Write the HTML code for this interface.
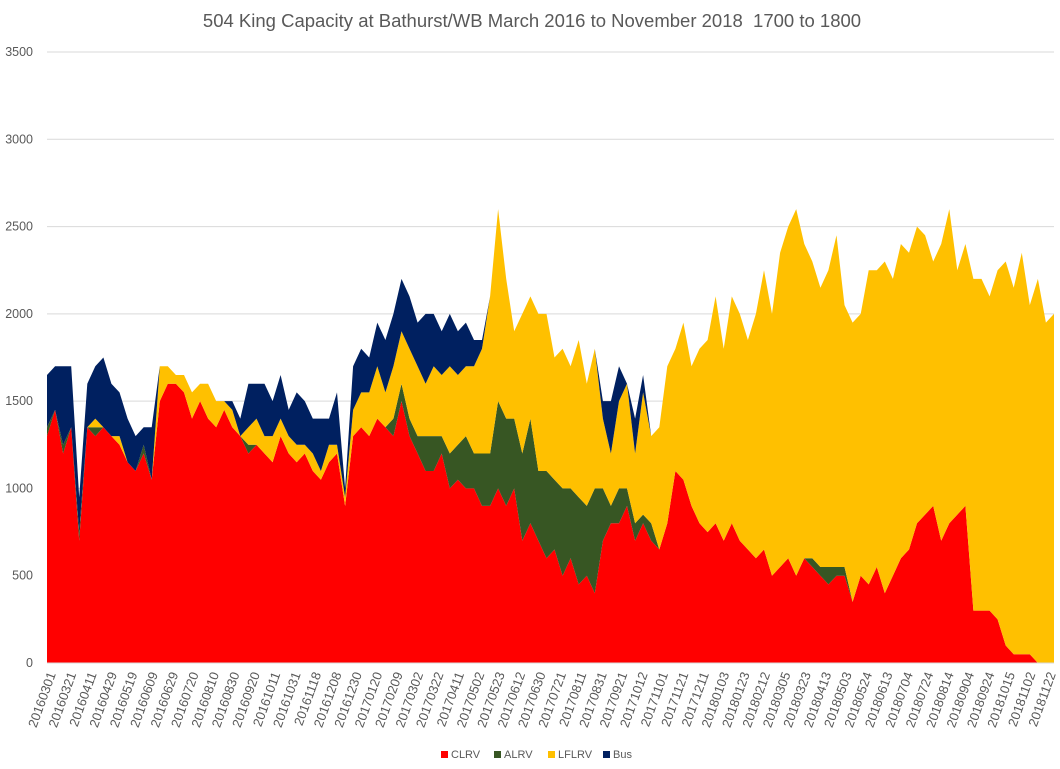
<!DOCTYPE html>
<html><head><meta charset="utf-8"><style>
html,body{margin:0;padding:0;background:#fff;}
svg{display:block;font-family:"Liberation Sans",Arial,sans-serif;}
</style></head><body>
<svg id="chart" width="1060" height="769" viewBox="0 0 1060 769">
<text x="532" y="27" text-anchor="middle" font-size="18.5" fill="#595959">504 King Capacity at Bathurst/WB March 2016 to November 2018 &#160;1700 to 1800</text>
<g id="grid"></g>
<g id="yticks"></g>
<g id="areas"></g>
<g id="xticks"></g>
<g id="legend"></g>
</svg>
<script>
const clrv=[1300,1450,1200,1350,700,1350,1300,1350,1300,1250,1150,1100,1200,1050,1500,1600,1600,1550,1400,1500,1400,1350,1450,1350,1300,1200,1250,1200,1150,1300,1200,1150,1200,1100,1050,1150,1200,900,1300,1350,1300,1400,1350,1300,1500,1300,1200,1100,1100,1200,1000,1050,1000,1000,900,900,1000,900,1000,700,800,700,600,650,500,600,450,500,400,700,800,800,900,700,800,700,650,800,1100,1050,900,800,750,800,700,800,700,650,600,650,500,550,600,500,600,550,500,450,500,500,350,500,450,550,400,500,600,650,800,850,900,700,800,850,900,300,300,300,250,100,50,50,50,0,0,0];
const alrv=[50,0,50,0,50,0,50,0,0,0,0,0,50,0,0,0,0,0,0,0,0,0,0,0,0,50,0,0,0,0,0,0,0,0,0,0,0,0,0,0,0,0,0,100,100,100,100,200,200,100,200,200,300,200,300,300,500,500,400,500,600,400,500,400,500,400,500,400,600,300,100,200,100,100,50,100,0,0,0,0,0,0,0,0,0,0,0,0,0,0,0,0,0,0,0,50,50,100,50,50,0,0,0,0,0,0,0,0,0,0,0,0,0,0,0,0,0,0,0,0,0,0,0,0,0,0];
const lflrv=[0,0,0,0,0,0,50,0,0,50,0,0,0,0,200,100,50,100,150,100,200,150,50,100,0,100,150,100,150,100,100,100,50,100,50,100,50,50,150,200,250,300,200,300,300,400,400,300,400,350,500,400,400,500,600,900,1100,800,500,800,700,900,900,700,800,700,900,700,800,400,300,500,600,400,700,500,700,900,700,900,800,1000,1100,1300,1100,1300,1300,1200,1400,1600,1500,1800,1900,2100,1800,1700,1600,1700,1900,1500,1600,1500,1800,1700,1900,1700,1800,1700,1700,1600,1400,1700,1800,1400,1500,1900,1900,1800,2000,2200,2100,2300,2000,2200,1950,2000];
const bus=[300,250,450,350,200,250,300,400,300,250,250,200,100,300,0,0,0,0,0,0,0,0,0,50,100,250,200,300,200,250,150,300,250,200,300,150,300,50,250,250,200,250,300,300,300,300,250,400,300,250,300,250,250,150,50,0,0,0,0,0,0,0,0,0,0,0,0,0,0,100,300,200,0,200,100,0,0,0,0,0,0,0,0,0,0,0,0,0,0,0,0,0,0,0,0,0,0,0,0,0,0,0,0,0,0,0,0,0,0,0,0,0,0,0,0,0,0,0,0,0,0,0,0,0,0,0];
const yTicks=[0,500,1000,1500,2000,2500,3000,3500];
const xLabels=["20160301","20160321","20160411","20160429","20160519","20160609","20160629","20160720","20160810","20160830","20160920","20161011","20161031","20161118","20161208","20161230","20170120","20170209","20170302","20170322","20170411","20170502","20170523","20170612","20170630","20170721","20170811","20170831","20170921","20171012","20171101","20171121","20171211","20180103","20180123","20180212","20180305","20180323","20180413","20180503","20180524","20180613","20180704","20180724","20180814","20180904","20180924","20181015","20181102","20181122"];
const seriesNames=["CLRV","ALRV","LFLRV","Bus"];
const seriesColors=["#ff0000","#375623","#ffc000","#002060"];

const NS="http://www.w3.org/2000/svg";
const X0=47,X1=1054,Y0=663,Y1=52,VMAX=3500;
const n=clrv.length;
function xs(i){return X0+(X1-X0)*i/(n-1);}
function ys(v){return Y0-(Y0-Y1)*v/VMAX;}
function mk(tag,attrs,parent){const e=document.createElementNS(NS,tag);for(const k in attrs)e.setAttribute(k,attrs[k]);parent.appendChild(e);return e;}

const grid=document.getElementById('grid'),yt=document.getElementById('yticks');
yTicks.forEach(v=>{
  const l=mk('line',{x1:X0,x2:X1,y1:ys(v),y2:ys(v),stroke:'#d9d9d9','stroke-width':1},grid);
  
  
  const t=mk('text',{x:33,y:ys(v)+4,'text-anchor':'end','font-size':12.5,fill:'#595959'},yt);
  t.textContent=v;
  
  
});

const series=[clrv,alrv,lflrv,bus];
const areas=document.getElementById('areas');
const base=new Array(n).fill(0);
series.forEach((s,si)=>{
  const top=s.map((v,i)=>base[i]+v);
  let d='M'+xs(0)+','+ys(top[0]);
  for(let i=1;i<n;i++)d+='L'+xs(i).toFixed(1)+','+ys(top[i]).toFixed(1);
  for(let i=n-1;i>=0;i--)d+='L'+xs(i).toFixed(1)+','+ys(base[i]).toFixed(1);
  d+='Z';
  const p=mk('path',{d:d,fill:seriesColors[si],stroke:'none'},areas);
  
  
  for(let i=0;i<n;i++)base[i]=top[i];
});
mk('line',{x1:X0,x2:X1,y1:Y0,y2:Y0,stroke:'#d9d9d9','stroke-width':1},areas);

const xt=document.getElementById('xticks');
xLabels.forEach((lab,k)=>{
  const x=52+(1052-52)*k/(xLabels.length-1);
  const t=mk('text',{x:0,y:0,'text-anchor':'end','font-size':13,fill:'#595959',transform:'translate('+(x+4)+',674) rotate(-70)'},xt);
  t.textContent=lab;
  
  
});

const lg=document.getElementById('legend');
const lx=[441,494,548,603];
seriesNames.forEach((nm,i)=>{
  const g=mk('g',{},lg);
  
  
  mk('rect',{x:lx[i],y:751,width:7,height:7,fill:seriesColors[i]},g);
  const t=mk('text',{x:lx[i]+10,y:758,'font-size':11,fill:'#595959'},g);
  t.textContent=nm;
});
</script>
</body></html>
